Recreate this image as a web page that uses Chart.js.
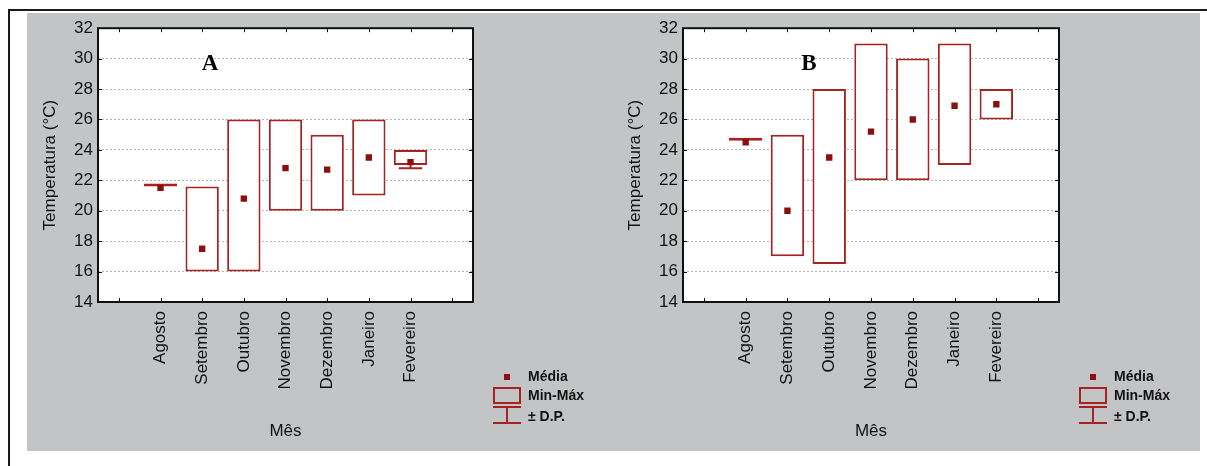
<!DOCTYPE html>
<html>
<head>
<meta charset="utf-8">
<script src="https://cdn.jsdelivr.net/npm/chart.js@4"></script>
<style>
    body { margin: 0; background: #fff; width: 1207px; height: 466px; overflow: hidden; position: relative; }
    #frame { position: absolute; left: 8px; top: 9px; width: 1199px; height: 457px; border-left: 2px solid #1a1a1a; border-top: 2px solid #1a1a1a; }
    #panel { position: absolute; left: 27px; top: 13px; width: 1173px; height: 438px; background: #c3c4c6; }
    canvas { position: absolute; top: 13px; }
    #chartA { left: 27px; }
    #chartB { left: 612px; }
</style>
</head>
<body>
<div id="frame"></div>
<div id="panel"></div>
<canvas id="chartA" width="588" height="438"></canvas>
<canvas id="chartB" width="588" height="438"></canvas>
<script>
// Months (blank slots at both ends, like the original axis)
const months = ['', 'Agosto', 'Setembro', 'Outubro', 'Novembro', 'Dezembro', 'Janeiro', 'Fevereiro', ''];

// Panel A
const minA  = [null, 21.6, 16.0, 16.0, 20.0, 20.0, 21.0, 23.0, null];
const maxA  = [null, 21.6, 21.6, 26.0, 26.0, 25.0, 26.0, 24.0, null];
const meanA = [null, 21.5, 17.5, 20.8, 22.8, 22.7, 23.5, 23.2, null];
const sdA   = [null, null, null, null, null, null, null, 0.4, null];

// Panel B
const minB  = [null, 24.6, 17.0, 16.5, 22.0, 22.0, 23.0, 26.0, null];
const maxB  = [null, 24.6, 25.0, 28.0, 31.0, 30.0, 31.0, 28.0, null];
const meanB = [null, 24.5, 20.0, 23.5, 25.2, 26.0, 26.9, 27.0, null];
const sdB   = [null, null, null, null, null, null, null, null, null];

const legendLabels = ['Média', 'Min-Máx', '± D.P.'];

const RED = '#a52323';
const DARK_RED = '#8a1010';
const FONT = '"Liberation Sans", Arial, sans-serif';

Chart.defaults.font.family = FONT;
Chart.defaults.font.size = 17;
Chart.defaults.color = '#111';

/**
 * Plot background, whiskers, frame, inward ticks, panel letter and legend
 */
const panelPlugin = {
    id: 'panel',
    beforeDraw(chart) {
        const { ctx, chartArea: a } = chart;
        ctx.save();
        ctx.fillStyle = '#fff';
        ctx.fillRect(a.left, a.top, a.right - a.left, a.bottom - a.top);
        ctx.restore();
    },
    beforeDatasetsDraw(chart, args, opts) {
        // ± D.P. whiskers go under the white boxes
        const ctx = chart.ctx;
        const x = chart.scales.x, y = chart.scales.y;
        const bars = chart.getDatasetMeta(0).data;
        ctx.save();
        ctx.strokeStyle = RED;
        ctx.lineWidth = 2;
        opts.sd.forEach((sd, i) => {
            if (sd == null || opts.mean[i] == null) return;
            const px = x.getPixelForValue(i);
            const half = (bars[i] ? bars[i].width : 30) * 0.35;
            const lo = y.getPixelForValue(opts.mean[i] - sd);
            const hi = y.getPixelForValue(opts.mean[i] + sd);
            ctx.beginPath();
            ctx.moveTo(px, lo); ctx.lineTo(px, hi);
            ctx.moveTo(px - half, lo); ctx.lineTo(px + half, lo);
            ctx.moveTo(px - half, hi); ctx.lineTo(px + half, hi);
            ctx.stroke();
        });
        ctx.restore();
    },
    afterDraw(chart, args, opts) {
        const { ctx, chartArea: a } = chart;
        const x = chart.scales.x, y = chart.scales.y;
        ctx.save();

        // frame
        ctx.strokeStyle = '#111';
        ctx.lineWidth = 2;
        ctx.strokeRect(a.left, a.top, a.right - a.left, a.bottom - a.top);

        // small inward ticks
        ctx.lineWidth = 1;
        ctx.beginPath();
        x.ticks.forEach((t, i) => {
            const px = Math.round(x.getPixelForTick(i)) + 0.5;
            ctx.moveTo(px, a.bottom); ctx.lineTo(px, a.bottom - 4);
            ctx.moveTo(px, a.top); ctx.lineTo(px, a.top + 4);
        });
        y.ticks.forEach(t => {
            const py = Math.round(y.getPixelForValue(t.value)) + 0.5;
            ctx.moveTo(a.left, py); ctx.lineTo(a.left + 4, py);
            ctx.moveTo(a.right, py); ctx.lineTo(a.right - 4, py);
        });
        ctx.stroke();

        // panel letter
        ctx.fillStyle = '#000';
        ctx.font = 'bold 23px "Liberation Serif", "Times New Roman", serif';
        ctx.textAlign = 'center';
        ctx.textBaseline = 'middle';
        ctx.fillText(opts.letter, a.left + opts.letterX, a.top + 36);

        // legend
        const lx = a.right + 20;
        ctx.fillStyle = DARK_RED;
        ctx.fillRect(lx + 11, 361, 6, 6);
        ctx.strokeStyle = RED;
        ctx.lineWidth = 2;
        ctx.strokeRect(lx + 1, 375, 26, 15);
        ctx.beginPath();
        ctx.moveTo(lx, 394); ctx.lineTo(lx + 28, 394);
        ctx.moveTo(lx + 14, 394); ctx.lineTo(lx + 14, 410);
        ctx.moveTo(lx, 410); ctx.lineTo(lx + 28, 410);
        ctx.stroke();

        ctx.fillStyle = '#111';
        ctx.font = 'bold 14px ' + FONT;
        ctx.textAlign = 'left';
        ctx.fillText(legendLabels[0], lx + 35, 364);
        ctx.fillText(legendLabels[1], lx + 35, 383);
        ctx.fillText(legendLabels[2], lx + 35, 404);
        ctx.restore();
    }
};

function buildChart(canvasId, mins, maxs, means, sds, letter, letterX, padRight) {
    const boxes = mins.map((v, i) => (v == null ? null : [v, maxs[i]]));
    return new Chart(document.getElementById(canvasId), {
        type: 'bar',
        data: {
            labels: months,
            datasets: [
                {
                    type: 'bar',
                    data: boxes,
                    backgroundColor: '#ffffff',
                    borderColor: RED,
                    borderWidth: 2,
                    borderSkipped: false,
                    minBarLength: 3,
                    barPercentage: 0.8,
                    categoryPercentage: 1,
                    order: 1
                },
                {
                    type: 'line',
                    data: means,
                    showLine: false,
                    pointStyle: 'rect',
                    pointRadius: 4.5,
                    pointBorderWidth: 0,
                    pointBackgroundColor: DARK_RED,
                    pointBorderColor: DARK_RED,
                    order: 0
                }
            ]
        },
        options: {
            responsive: false,
            animation: false,
            events: [],
            layout: { padding: { left: 0, top: 15, right: padRight, bottom: 0 } },
            plugins: {
                legend: { display: false },
                tooltip: { enabled: false },
                panel: { letter: letter, letterX: letterX, sd: sds, mean: means }
            },
            scales: {
                x: {
                    offset: true,
                    grid: { display: false, drawTicks: false },
                    border: { display: false },
                    ticks: { minRotation: 90, maxRotation: 90, autoSkip: false, padding: 9 },
                    title: { display: true, text: 'Mês', padding: { top: 0, bottom: 9 } },
                    afterFit: s => { s.height = 149; }
                },
                y: {
                    min: 14,
                    max: 32,
                    ticks: { stepSize: 2, padding: 5 },
                    grid: {
                        drawTicks: false,
                        lineWidth: 1,
                        color: c => (c.tick.value === 14 || c.tick.value === 32 ? 'rgba(0,0,0,0)' : '#b5b5b5')
                    },
                    border: { display: false, dash: [2, 2] },
                    title: { display: true, text: 'Temperatura (°C)', padding: { top: 13, bottom: 0 } },
                    afterFit: s => { s.width = 71; }
                }
            }
        },
        plugins: [panelPlugin]
    });
}

buildChart('chartA', minA, maxA, meanA, sdA, 'A', 112, 142);
buildChart('chartB', minB, maxB, meanB, sdB, 'B', 126, 141);
</script>
</body>
</html>
